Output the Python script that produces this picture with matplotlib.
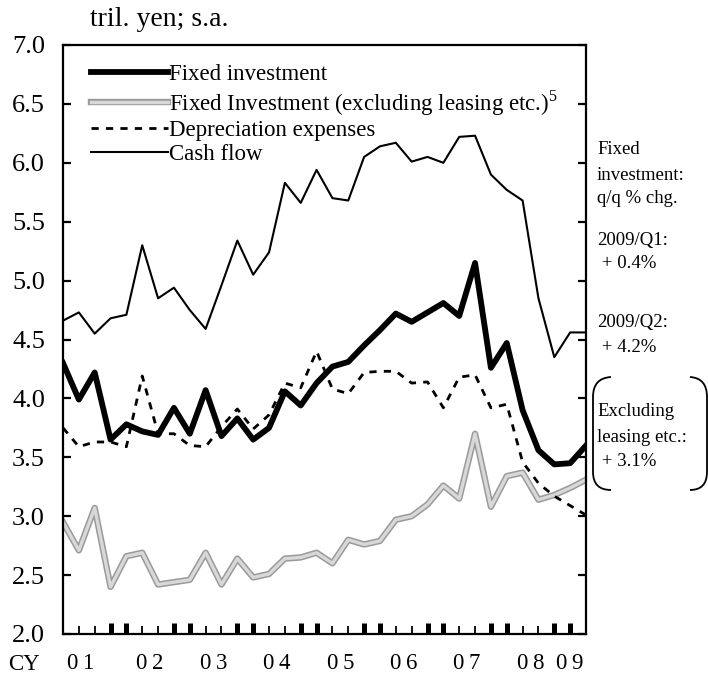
import matplotlib
matplotlib.use("Agg")
import matplotlib.pyplot as plt
from matplotlib.path import Path
from matplotlib.patches import PathPatch
from matplotlib.lines import Line2D
import matplotlib.patheffects as pe
import numpy as np

plt.rcParams['font.family'] = ['Liberation Serif', 'DejaVu Serif']
plt.rcParams['mathtext.fontset'] = 'custom'
plt.rcParams['mathtext.rm'] = 'Liberation Serif'

# ---- data (quarterly, 2001/Q1 .. 2009/Q2), tril. yen, s.a. ----
quarters = [f"{y}/Q{q}" for y in range(2001, 2010) for q in range(1, 5)][:34]
fixed_investment = [4.30, 3.99, 4.22, 3.65, 3.78, 3.72, 3.69, 3.92, 3.70, 4.07,
                    3.68, 3.83, 3.65, 3.75, 4.06, 3.94, 4.13, 4.27, 4.31, 4.45,
                    4.58, 4.72, 4.65, 4.73, 4.81, 4.70, 5.15, 4.26, 4.47, 3.90,
                    3.56, 3.44, 3.45, 3.60]
fixed_inv_ex_leasing = [2.95, 2.71, 3.07, 2.40, 2.66, 2.69, 2.42, 2.44, 2.46, 2.69,
                        2.42, 2.64, 2.48, 2.51, 2.64, 2.65, 2.69, 2.60, 2.80, 2.76,
                        2.79, 2.97, 3.00, 3.10, 3.26, 3.15, 3.70, 3.08, 3.34, 3.37,
                        3.14, 3.18, 3.24, 3.31]
depreciation = [3.75, 3.59, 3.63, 3.63, 3.59, 4.19, 3.70, 3.70, 3.60, 3.59,
                3.76, 3.91, 3.74, 3.86, 4.13, 4.09, 4.40, 4.08, 4.04, 4.22,
                4.23, 4.23, 4.13, 4.14, 3.92, 4.18, 4.20, 3.92, 3.95, 3.46,
                3.28, 3.17, 3.09, 3.01]
cash_flow = [4.66, 4.73, 4.55, 4.68, 4.71, 5.30, 4.85, 4.94, 4.75, 4.59,
             4.96, 5.34, 5.05, 5.24, 5.83, 5.66, 5.94, 5.70, 5.68, 6.05,
             6.14, 6.17, 6.01, 6.05, 6.00, 6.22, 6.23, 5.90, 5.77, 5.68,
             4.85, 4.35, 4.56, 4.56]
year_labels = ["0\u20091", "0\u20092", "0\u20093", "0\u20094", "0\u20095",
               "0\u20096", "0\u20097", "0\u20098", "0\u20099"]
year_label_pos = [1.1, 5.5, 9.5, 13.5, 17.5, 21.5, 25.5, 29.5, 32.0]
yticks = [2.0, 2.5, 3.0, 3.5, 4.0, 4.5, 5.0, 5.5, 6.0, 6.5, 7.0]
series_labels = ["Fixed investment",
                 "Fixed Investment (excluding leasing etc.)$^{5}$",
                 "Depreciation expenses",
                 "Cash flow"]
side_notes = ["Fixed", "investment:", "q/q % chg.",
              "2009/Q1:", " + 0.4%", "2009/Q2:", " + 4.2%",
              "Excluding", "leasing etc.:", " + 3.1%"]

W, H = 708, 679
fig = plt.figure(figsize=(W / 100, H / 100), dpi=100)
L, R, T, B = 63, 586, 45, 634
ax = fig.add_axes([L / W, 1 - B / H, (R - L) / W, (B - T) / H])

x = np.arange(len(quarters))

gray_fx = [pe.Stroke(linewidth=4.6, foreground='#9a9a9a'),
           pe.Stroke(linewidth=2.4, foreground='#d8d8d8')]

ax.plot(x, cash_flow, color='black', lw=1.5, zorder=3)
ax.plot(x, depreciation, color='black', lw=2.0, linestyle=(0, (2.6, 2.6)), zorder=3)
ax.plot(x, fixed_inv_ex_leasing, color='#b0b0b0', lw=4.6, zorder=2,
        path_effects=gray_fx)
ax.plot(x, fixed_investment, color='black', lw=4.2, zorder=4)

ax.set_xlim(0, len(quarters) - 1)
ax.set_ylim(2.0, 7.0)

for s in ax.spines.values():
    s.set_linewidth(1.6)

ax.set_yticks(yticks)
ax.set_yticklabels([f"{v:.1f}" for v in yticks], fontsize=19)
ax.tick_params(axis='y', direction='in', length=6, width=1.6, pad=13,
               left=True, right=True)

major = [i for i in x if (i % 4 == 3) or (i % 4 == 0 and i > 0)]
minor = [i for i in x if i not in major and 0 < i < len(x) - 1]
ax.set_xticks(major)
ax.set_xticks(minor, minor=True)
ax.set_xticklabels([])
ax.tick_params(axis='x', which='major', direction='in', length=8, width=3.6)
ax.tick_params(axis='x', which='minor', direction='in', length=5.5, width=1.3)

for lab, pos in zip(year_labels, year_label_pos):
    ax.text(pos, -0.050, lab, transform=ax.get_xaxis_transform(),
            ha='center', va='center', fontsize=16.5)
fig.text(8 / W, 1 - 664 / H, "CY", fontsize=16.5, ha='left', va='center')

handles = [
    Line2D([], [], color='black', lw=4.2),
    Line2D([], [], color='#b0b0b0', lw=4.6, path_effects=gray_fx),
    Line2D([], [], color='black', lw=2.0, linestyle=(0, (2.6, 2.6))),
    Line2D([], [], color='black', lw=1.5),
]
leg = ax.legend(handles, series_labels, loc='upper left', frameon=False,
                bbox_to_anchor=(0.036, 0.983), fontsize=16.5, handlelength=3.35,
                handletextpad=0.05, labelspacing=0.12, borderaxespad=0.0)

fig.text(90 / W, 1 - 20 / H, "tril. yen; s.a.", fontsize=20, va='center', ha='left')

note_y = [150, 175, 198, 240, 264, 322, 347, 412, 437, 462]
for t, yy in zip(side_notes, note_y):
    fig.text(597 / W, 1 - yy / H, t, fontsize=13.5, va='center', ha='left')

def fx(px, py):
    return (px / W, 1 - py / H)

verts_l = [fx(611, 377), fx(593, 378), fx(593, 397), fx(593, 472), fx(593, 490), fx(611, 490)]
codes = [Path.MOVETO, Path.CURVE3, Path.CURVE3, Path.LINETO, Path.CURVE3, Path.CURVE3]
verts_r = [fx(690, 377), fx(707, 378), fx(707, 397), fx(707, 472), fx(707, 490), fx(690, 490)]
for v in (verts_l, verts_r):
    fig.patches.append(PathPatch(Path(v, codes), fill=False, lw=1.3,
                                 edgecolor='black', transform=fig.transFigure))

fig.savefig("out.png", dpi=100)
